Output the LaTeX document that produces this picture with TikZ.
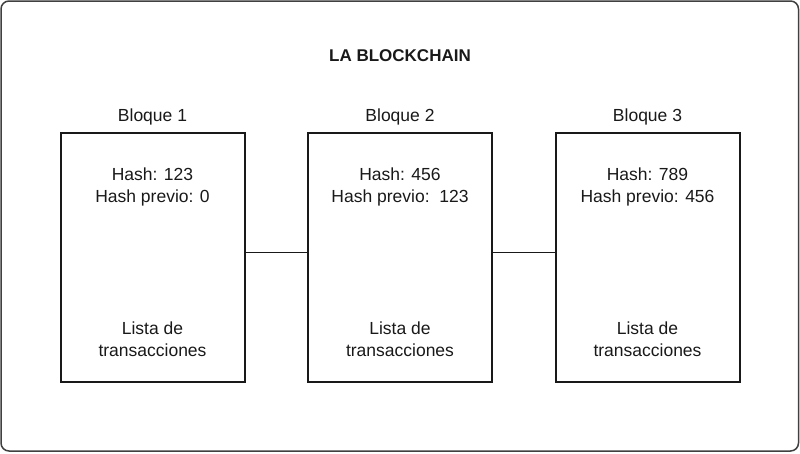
\documentclass[tikz,border=0pt]{standalone}
\usepackage{fontspec}
\setmainfont{Liberation Sans}
\usetikzlibrary{calc}
\begin{document}
\begin{tikzpicture}[x=1pt,y=-1pt,
  txt/.style={anchor=base,inner sep=0pt,font=\fontsize{17.5}{22}\selectfont,text=black!90},
  ttl/.style={txt,font=\fontsize{17}{22}\selectfont\bfseries},
  blockbox/.style={draw=black!90,line width=2pt,minimum width=184pt,minimum height=249pt,inner sep=0pt},
  link/.style={draw=black!90,line width=1pt},
  frame/.style={draw=black!75,line width=1.5pt,rounded corners=8pt}]
\useasboundingbox (0,0) rectangle (800,453);
\draw[frame] (1,1) rectangle (798.5,451);
\node[ttl] (title) at (400,61.5) {LA BLOCKCHAIN};
% blocks
\node[blockbox] (b1) at (152.5,257.5) {};
\node[blockbox] (b2) at (400,257.5) {};
\node[blockbox] (b3) at (647.5,257.5) {};
% headers
\node[txt] (l1) at (152.5,121) {Bloque 1};
\node[txt] (l2) at (400,121) {Bloque 2};
\node[txt] (l3) at (647.5,121) {Bloque 3};
% hashes
\node[txt] (h1a) at (152.5,180.5) {Hash: 123};
\node[txt] (h1b) at (152.5,202) {Hash previo: 0};
\node[txt] (h2a) at (400,180.5) {Hash: 456};
\node[txt] (h2b) at (400,202) {Hash previo:\ \ 123};
\node[txt] (h3a) at (647.5,180.5) {Hash: 789};
\node[txt] (h3b) at (647.5,202) {Hash previo: 456};
% transactions
\node[txt] (t1a) at (152.5,334) {Lista de};
\node[txt] (t1b) at (152.5,356) {transacciones};
\node[txt] (t2a) at (400,334) {Lista de};
\node[txt] (t2b) at (400,356) {transacciones};
\node[txt] (t3a) at (647.5,334) {Lista de};
\node[txt] (t3b) at (647.5,356) {transacciones};
% links
\draw[link] ($(b1.east)+(0,-5)$) -- ($(b2.west)+(0,-5)$);
\draw[link] ($(b2.east)+(0,-5)$) -- ($(b3.west)+(0,-5)$);
\end{tikzpicture}
\end{document}
